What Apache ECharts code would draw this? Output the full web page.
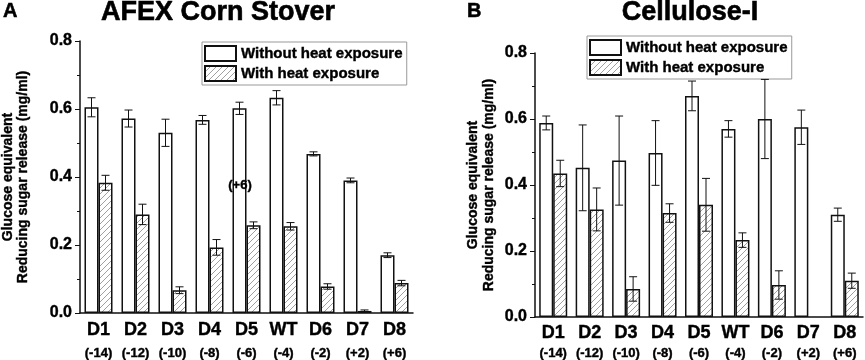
<!DOCTYPE html>
<html>
<head>
<meta charset="utf-8">
<script src="https://cdn.jsdelivr.net/npm/echarts@6/dist/echarts.min.js"></script>
<style>
  html, body { margin: 0; padding: 0; background: #fff; }
  #chart { width: 865px; height: 360px; }
</style>
</head>
<body>
<div id="chart"></div>
<script>
const categories = ['D1', 'D2', 'D3', 'D4', 'D5', 'WT', 'D6', 'D7', 'D8'];
const shifts = ['(-14)', '(-12)', '(-10)', '(-8)', '(-6)', '(-4)', '(-2)', '(+2)', '(+6)'];
const seriesNames = ['Without heat exposure', 'With heat exposure'];

// panel A: AFEX corn stover
const afexWithout = [0.605, 0.572, 0.530, 0.568, 0.602, 0.633, 0.468, 0.390, 0.170];
const afexWithoutErr = [0.028, 0.025, 0.040, 0.013, 0.018, 0.021, 0.006, 0.007, 0.007];
const afexWith = [0.383, 0.290, 0.067, 0.193, 0.258, 0.255, 0.078, 0.006, 0.088];
const afexWithErr = [0.022, 0.030, 0.010, 0.023, 0.010, 0.011, 0.008, 0.003, 0.008];

// panel B: cellulose-I (D7 has no heated bar)
const celWithout = [0.588, 0.452, 0.474, 0.497, 0.670, 0.570, 0.600, 0.575, 0.310];
const celWithoutErr = [0.021, 0.130, 0.135, 0.098, 0.045, 0.025, 0.120, 0.052, 0.020];
const celWith = [0.435, 0.326, 0.085, 0.315, 0.340, 0.233, 0.097, null, 0.110];
const celWithErr = [0.040, 0.065, 0.037, 0.028, 0.080, 0.022, 0.043, null, 0.023];

const FONT = "'Liberation Sans', Arial, sans-serif";
const BAR_W = 14;
// a thin stroke to get the heavy bold of the scanned figure
const heavy = { textBorderColor: '#000', textBorderWidth: 0.4 };

function hatch() {
  const c = document.createElement('canvas');
  c.width = 6; c.height = 6;
  const g = c.getContext('2d');
  g.fillStyle = '#fff';
  g.fillRect(0, 0, 6, 6);
  g.strokeStyle = '#888';
  g.lineWidth = 0.8;
  g.beginPath();
  g.moveTo(0, 6); g.lineTo(6, 0);
  g.moveTo(-3, 3); g.lineTo(3, -3);
  g.moveTo(3, 9); g.lineTo(9, 3);
  g.stroke();
  return c;
}
const hatchFill = { image: hatch(), repeat: 'repeat' };

function errData(vals, errs) {
  return vals.map((v, i) => (v == null ? null : [i, v, errs[i]])).filter(d => d);
}

function errSeries(idx, vals, errs, side) {
  return {
    type: 'custom',
    xAxisIndex: idx, yAxisIndex: idx,
    silent: true, z: 5,
    data: errData(vals, errs),
    renderItem(params, api) {
      const i = api.value(0), v = api.value(1), e = api.value(2);
      const top = api.coord([i, v + e]);
      const bot = api.coord([i, v - e]);
      const x = top[0] + side * BAR_W / 2;
      const cap = 4;
      const st = { stroke: '#111', lineWidth: 1 };
      return {
        type: 'group',
        children: [
          { type: 'line', shape: { x1: x, y1: top[1], x2: x, y2: bot[1] }, style: st },
          { type: 'line', shape: { x1: x - cap, y1: top[1], x2: x + cap, y2: top[1] }, style: st },
          { type: 'line', shape: { x1: x - cap, y1: bot[1], x2: x + cap, y2: bot[1] }, style: st }
        ]
      };
    }
  };
}

function barSeries(idx, name, vals, fill) {
  return {
    type: 'bar', name,
    xAxisIndex: idx, yAxisIndex: idx,
    data: vals.map(v => (v == null ? '-' : v)),
    barWidth: BAR_W, barGap: '0%',
    itemStyle: { color: fill, borderColor: '#111', borderWidth: 1.5 }
  };
}

function xAxis(idx, lhA, lhB) {
  return {
    type: 'category', gridIndex: idx, data: categories,
    axisLine: { lineStyle: { color: '#111', width: 1.5 } },
    axisTick: { alignWithLabel: true, length: 4, lineStyle: { color: '#111' } },
    axisLabel: {
      margin: 5, interval: 0,
      formatter: (v, i) => `{a|${v}}\n{b|${shifts[i]}}`,
      rich: {
        a: { fontFamily: FONT, fontSize: 18, fontWeight: 'bold', color: '#000', lineHeight: lhA, ...heavy },
        b: { fontFamily: FONT, fontSize: 13, fontWeight: 'bold', color: '#000', lineHeight: lhB, ...heavy }
      }
    }
  };
}

function yAxis(idx, gap, lh) {
  return {
    type: 'value', gridIndex: idx, min: 0, max: 0.8, interval: 0.2,
    name: 'Glucose equivalent\nReducing sugar release (mg/ml)',
    nameLocation: 'middle', nameRotate: 90, nameGap: gap,
    nameTextStyle: { fontFamily: FONT, fontSize: 14, fontWeight: 'bold', color: '#000', lineHeight: lh, ...heavy },
    axisLine: { show: true, lineStyle: { color: '#111', width: 1.5 } },
    axisTick: { show: true, length: 5, lineStyle: { color: '#111' } },
    minorTick: { show: true, splitNumber: 2, length: 3, lineStyle: { color: '#111' } },
    splitLine: { show: false },
    axisLabel: {
      margin: 8, fontFamily: FONT, fontSize: 16, fontWeight: 'bold', color: '#000', ...heavy,
      formatter: v => v.toFixed(1)
    }
  };
}

function legend(left, top) {
  return {
    orient: 'vertical', left, top,
    data: seriesNames,
    icon: 'rect',
    itemWidth: 31, itemHeight: 15, itemGap: 3,
    padding: [3, 4, 3, 2],
    borderColor: '#999', borderWidth: 1,
    selectedMode: false,
    textStyle: { fontFamily: FONT, fontSize: 15, fontWeight: 'bold', color: '#000', ...heavy }
  };
}

const chart = echarts.init(document.getElementById('chart'));
chart.setOption({
  animation: false,
  grid: [
    { left: 77, right: 452, top: 41, bottom: 47 },
    { left: 535, right: 2, top: 53, bottom: 43 }
  ],
  xAxis: [xAxis(0, 24, 22), xAxis(1, 22, 18)],
  yAxis: [yAxis(0, 49, 15), yAxis(1, 38, 16)],
  legend: [legend(202, 42), legend(587, 36)],
  series: [
    barSeries(0, seriesNames[0], afexWithout, '#fff'),
    barSeries(0, seriesNames[1], afexWith, hatchFill),
    errSeries(0, afexWithout, afexWithoutErr, -1),
    errSeries(0, afexWith, afexWithErr, 1),
    barSeries(1, seriesNames[0], celWithout, '#fff'),
    barSeries(1, seriesNames[1], celWith, hatchFill),
    errSeries(1, celWithout, celWithoutErr, -1),
    errSeries(1, celWith, celWithErr, 1)
  ],
  graphic: [
    { type: 'text', x: 3, y: 11.5, style: { text: 'A', font: `bold 20px ${FONT}`, fill: '#000', stroke: '#000', lineWidth: 0.5, textVerticalAlign: 'middle' } },
    { type: 'text', x: 218, y: 12.5, style: { text: 'AFEX Corn Stover', font: `bold 27px ${FONT}`, fill: '#000', stroke: '#000', lineWidth: 0.6, textAlign: 'center', textVerticalAlign: 'middle' } },
    { type: 'text', x: 467, y: 11.5, style: { text: 'B', font: `bold 20px ${FONT}`, fill: '#000', stroke: '#000', lineWidth: 0.5, textVerticalAlign: 'middle' } },
    { type: 'text', x: 690, y: 12.5, style: { text: 'Cellulose-I', font: `bold 27px ${FONT}`, fill: '#000', stroke: '#000', lineWidth: 0.6, textAlign: 'center', textVerticalAlign: 'middle' } },
    { type: 'text', x: 240, y: 185, z: 10, style: { text: '(+6)', font: `bold 13px ${FONT}`, fill: '#000', stroke: '#000', lineWidth: 0.4, textAlign: 'center', textVerticalAlign: 'middle' } }
  ]
});
</script>
</body>
</html>
